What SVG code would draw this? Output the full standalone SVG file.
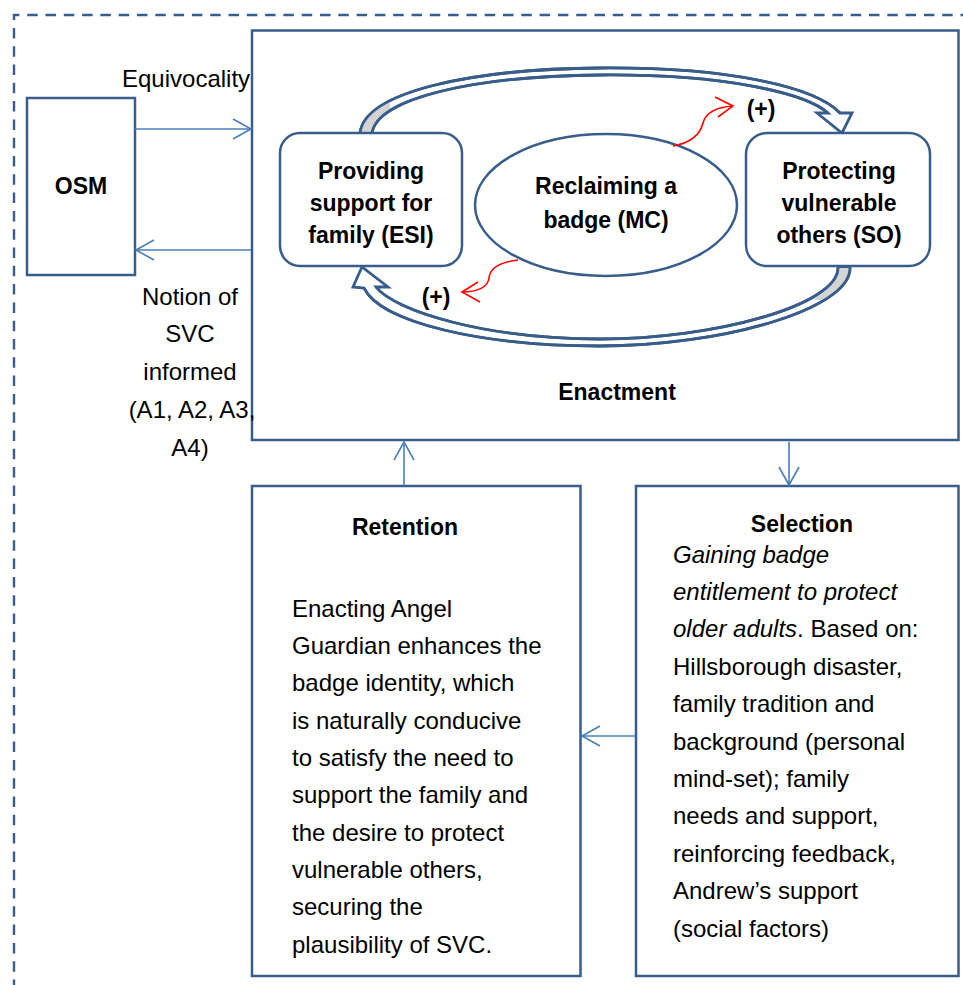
<svg xmlns="http://www.w3.org/2000/svg" width="963" height="985" viewBox="0 0 963 985">
  <style>
    .box { fill: #ffffff; stroke: #385d8a; stroke-width: 2.5; }
    .conn { fill: none; stroke: #4a7ebb; stroke-width: 1.6; }
    .band { fill: #ffffff; stroke: #385d8a; stroke-width: 2.8; stroke-linejoin: miter; }
    .edge { fill: none; stroke: #385d8a; stroke-width: 2.8; }
    .wave { fill: none; stroke: #ff0000; stroke-width: 1.6; }
    .frame { fill: none; stroke: #385d8a; stroke-width: 2.4; stroke-dasharray: 10.5 7.8; }
    text { font-family: "Liberation Sans", Arial, sans-serif; font-size: 24px; fill: #000000; }
    .b { font-weight: bold; font-size: 23px; }
    .c { text-anchor: middle; }
    .i { font-style: italic; }
  </style>
  <defs>
    <marker id="vhead" markerUnits="userSpaceOnUse" markerWidth="26" markerHeight="26" viewBox="-22 -13 26 26" refX="0" refY="0" orient="auto">
      <path d="M-18,-10 L0,0 L-18,10" fill="none" stroke="#4a7ebb" stroke-width="1.6"/>
    </marker>
    <clipPath id="topBandClip">
      <path d="M360,133 C365,92 470,69 600,68 C730,67 815,87 840,113 L828,113 C805,93 725,74 600,75 C475,76 377,98 372,133 Z"/>
    </clipPath>
    <clipPath id="bottomBandClip">
      <path d="M850,268 C850,310 720,346 600,346 C480,346 380,322 364,288 L376,287 C395,311 485,339 600,339 C715,339 838,305 838,268 Z"/>
    </clipPath>
  </defs>

  <!-- dashed outer frame -->
  <path class="frame" d="M14,990 V15 H970"/>

  <!-- Enactment container -->
  <g id="enactment">
    <rect class="box" x="252" y="30.5" width="706.5" height="409.5"/>
    <text class="b c" x="617" y="400">Enactment</text>
  </g>

  <!-- OSM -->
  <g id="osm">
    <rect class="box" x="27" y="98" width="108" height="177"/>
    <text class="b c" x="81" y="194">OSM</text>
  </g>

  <!-- side labels -->
  <g id="label-equivocality">
    <text x="122" y="87">Equivocality</text>
  </g>
  <g id="label-notion">
    <text class="c" x="190" y="305">Notion of</text>
    <text class="c" x="190" y="342">SVC</text>
    <text class="c" x="190" y="380">informed</text>
    <text class="c" x="192" y="418">(A1, A2, A3,</text>
    <text class="c" x="190" y="456">A4)</text>
  </g>

  <!-- feedback loop bands -->
  <g id="loop-top">
    <path class="band" d="M360,133 C365,92 470,69 600,68 C730,67 815,87 840,113 L852,113 L842,133 L817,113 L828,113 C805,93 725,74 600,75 C475,76 377,98 372,133 Z"/>
    <rect x="350" y="100" width="40" height="34" fill="#d4d4d4" clip-path="url(#topBandClip)"/>
    <path class="edge" d="M360,133 C365,92 470,69 600,68 C730,67 815,87 840,113 M828,113 C805,93 725,74 600,75 C475,76 377,98 372,133"/>
  </g>
  <g id="loop-bottom">
    <path class="band" d="M850,268 C850,310 720,346 600,346 C480,346 380,322 364,288 L353,287 L362,267 L388,287 L376,287 C395,311 485,339 600,339 C715,339 838,305 838,268 Z"/>
    <rect x="815" y="266" width="40" height="34" fill="#d4d4d4" clip-path="url(#bottomBandClip)"/>
    <path class="edge" d="M850,268 C850,310 720,346 600,346 C480,346 380,322 364,288 M376,287 C395,311 485,339 600,339 C715,339 838,305 838,268"/>
  </g>

  <!-- inner nodes -->
  <g id="esi">
    <rect class="box" x="280" y="133" width="182" height="133" rx="20" ry="20"/>
    <text class="b c" x="371" y="179">Providing</text>
    <text class="b c" x="371" y="211">support for</text>
    <text class="b c" x="371" y="243">family (ESI)</text>
  </g>
  <g id="mc">
    <ellipse class="box" cx="606" cy="205" rx="131" ry="71"/>
    <text class="b c" x="606" y="194">Reclaiming a</text>
    <text class="b c" x="606" y="228">badge (MC)</text>
  </g>
  <g id="so">
    <rect class="box" x="746" y="133" width="184" height="133" rx="21" ry="21"/>
    <text class="b c" x="839" y="179">Protecting</text>
    <text class="b c" x="839" y="211">vulnerable</text>
    <text class="b c" x="839" y="243">others (SO)</text>
  </g>

  <!-- reinforcing influences -->
  <g id="reinforce-top">
    <path class="wave" d="M673,146 C690,143 700,135 703,123 C706,112 718,107 733,106"/>
    <path class="wave" d="M715,97 L733,106 L718,117"/>
    <text class="b c" x="761" y="117">(+)</text>
  </g>
  <g id="reinforce-bottom">
    <path class="wave" d="M518,260 C500,262 490,268 489,278 C488,287 478,292 462,292"/>
    <path class="wave" d="M478,282 L462,292 L480,302"/>
    <text class="b c" x="436" y="305">(+)</text>
  </g>

  <!-- Retention -->
  <g id="retention">
    <rect class="box" x="252" y="486" width="328.5" height="490"/>
    <text class="b c" x="405" y="535">Retention</text>
    <text x="292" y="617">Enacting Angel</text>
    <text x="292" y="654">Guardian enhances the</text>
    <text x="292" y="691">badge identity, which</text>
    <text x="292" y="729">is naturally conducive</text>
    <text x="292" y="766">to satisfy the need to</text>
    <text x="292" y="803">support the family and</text>
    <text x="292" y="841">the desire to protect</text>
    <text x="292" y="878">vulnerable others,</text>
    <text x="292" y="915">securing the</text>
    <text x="292" y="953">plausibility of SVC.</text>
  </g>

  <!-- Selection -->
  <g id="selection">
    <rect class="box" x="636" y="486" width="322.5" height="490"/>
    <text class="b c" x="802" y="532">Selection</text>
    <text class="i" x="673" y="563">Gaining badge</text>
    <text class="i" x="673" y="600">entitlement to protect</text>
    <text x="673" y="637"><tspan class="i">older adults</tspan>. Based on:</text>
    <text x="673" y="675">Hillsborough disaster,</text>
    <text x="673" y="712">family tradition and</text>
    <text x="673" y="750">background (personal</text>
    <text x="673" y="787">mind-set); family</text>
    <text x="673" y="824">needs and support,</text>
    <text x="673" y="862">reinforcing feedback,</text>
    <text x="673" y="899">Andrew’s support</text>
    <text x="673" y="937">(social factors)</text>
  </g>

  <!-- connectors -->
  <g id="connectors">
    <line class="conn" x1="135" y1="129" x2="251" y2="129" marker-end="url(#vhead)"/>
    <line class="conn" x1="251" y1="250" x2="136" y2="250" marker-end="url(#vhead)"/>
    <line class="conn" x1="404" y1="486" x2="404" y2="442" marker-end="url(#vhead)"/>
    <line class="conn" x1="789" y1="442" x2="789" y2="485" marker-end="url(#vhead)"/>
    <line class="conn" x1="635" y1="736" x2="582" y2="736" marker-end="url(#vhead)"/>
  </g>
</svg>
